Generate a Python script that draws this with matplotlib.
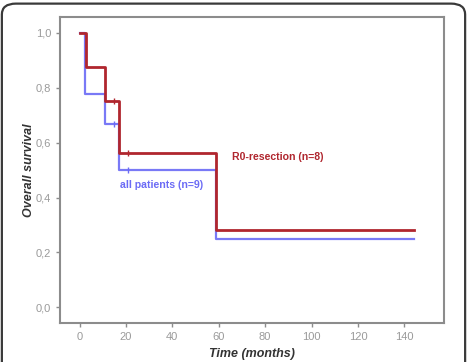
import matplotlib.pyplot as plt
from matplotlib.patches import FancyBboxPatch
from matplotlib.ticker import FuncFormatter

plt.rcParams['font.family'] = ['Liberation Sans', 'DejaVu Sans']

# Kaplan-Meier step data (time in months, survival)
r0_times = [0, 3, 11, 17, 59, 144]
r0_surv = [1.0, 0.875, 0.75, 0.5625, 0.28125, 0.28125]
all_times = [0, 2.5, 11, 17, 59, 144]
all_surv = [1.0, 0.778, 0.667, 0.5, 0.25, 0.25]

# censored observations
r0_cens_t = [15, 21]
r0_cens_s = [0.75, 0.5625]
all_cens_t = [15, 21]
all_cens_s = [0.667, 0.5]

xticks = [0, 20, 40, 60, 80, 100, 120, 140]
yticks = [0.0, 0.2, 0.4, 0.6, 0.8, 1.0]

red = '#b0262e'
blue = '#6b6bf5'
gray = '#8c8c8c'

fig = plt.figure(figsize=(4.67, 3.62), dpi=100)

# rounded outer frame
frame = FancyBboxPatch((0.004, -0.06), 0.992, 1.05,
                       boxstyle='round,pad=0,rounding_size=0.03',
                       transform=fig.transFigure, fill=False,
                       edgecolor='#3a3a3a', linewidth=1.6)
fig.patches.append(frame)

ax = fig.add_axes([0.1285, 0.1077, 0.822, 0.845])

ax.step(all_times, all_surv, where='post', color=blue, lw=1.6, alpha=0.9)
ax.step(r0_times, r0_surv, where='post', color=red, lw=2.0)
ax.plot(all_cens_t, all_cens_s, ls='none', marker='|', ms=4, color=blue)
ax.plot(r0_cens_t, r0_cens_s, ls='none', marker='|', ms=4, color=red)

ax.text(65.5, 0.548, 'R0-resection (n=8)', color=red, fontsize=7.6,
        fontweight='bold', va='center', ha='left')
ax.text(17.3, 0.445, 'all patients (n=9)', color=blue, fontsize=7.6,
        fontweight='bold', va='center', ha='left')

ax.set_xlim(-8.4, 157)
ax.set_ylim(-0.057, 1.057)
ax.set_xticks(xticks)
ax.set_yticks(yticks)
ax.yaxis.set_major_formatter(FuncFormatter(lambda v, p: f'{v:.1f}'.replace('.', ',')))

for s in ax.spines.values():
    s.set_color(gray)
    s.set_linewidth(1.5)
ax.tick_params(colors=gray, labelcolor='#9a9a9a', labelsize=8,
               length=3, width=1)

ax.set_ylabel('Overall survival', fontsize=9, fontweight='bold',
              style='italic', color='#333333', va='center')
ax.yaxis.set_label_coords(-0.08, 0.5)
ax.set_xlabel('Time (months)', fontsize=9, fontweight='bold',
              style='italic', color='#333333', va='center')
ax.xaxis.set_label_coords(0.5, -0.101)

fig.savefig('out.png', dpi=100)
